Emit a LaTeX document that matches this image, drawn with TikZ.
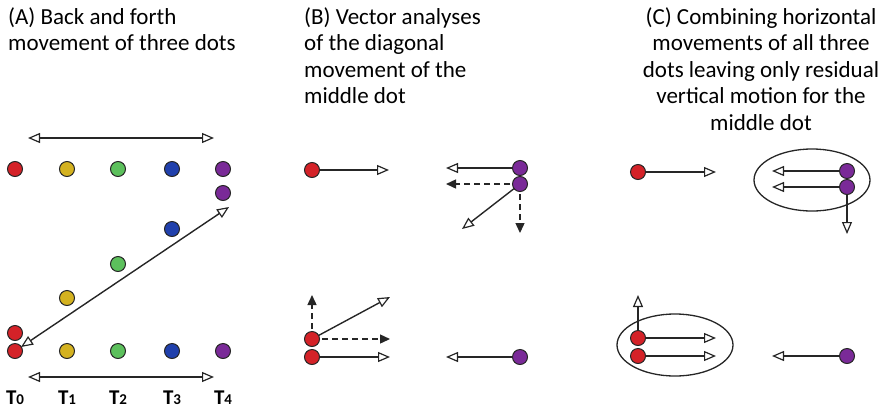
\documentclass[tikz,border=0pt]{standalone}
\usepackage{fontspec}
\setmainfont{Carlito}
\usetikzlibrary{arrows.meta,shapes.geometric}
\definecolor{dred}{RGB}{212,34,40}
\definecolor{dyel}{RGB}{212,178,32}
\definecolor{dgrn}{RGB}{92,192,92}
\definecolor{dblu}{RGB}{32,64,172}
\definecolor{dpur}{RGB}{122,42,152}
\tikzset{
  dot/.style={circle,draw=black!85,line width=1pt,inner sep=0pt,minimum size=15pt},
  mv/.style={line width=1.4pt,draw=black!85,-{Triangle[open,length=12pt,width=10pt,line width=1.2pt]}},
  mvb/.style={line width=1.4pt,draw=black!85,{Triangle[open,length=12pt,width=10pt,line width=1.2pt]}-{Triangle[open,length=12pt,width=10pt,line width=1.2pt]}},
  dsh/.style={line width=1.4pt,draw=black!85,dash pattern=on 6pt off 4pt,-{Triangle[length=10pt,width=9pt]}},
  ell/.style={ellipse,draw=black!85,line width=1.3pt,minimum width=116pt,minimum height=62pt,inner sep=0pt},
  ttl/.style={font=\fontsize{23}{26.5}\selectfont,inner sep=0pt},
  tlab/.style={font=\fontsize{21}{24}\selectfont\bfseries,inner sep=0pt}
}
\begin{document}
\begin{tikzpicture}[x=1pt,y=-1pt]
\useasboundingbox (0,0) rectangle (883,413);
% titles
\node[ttl,anchor=north west,align=left] (ta) at (8,7) {(A) Back and forth\\movement of three dots};
\node[ttl,anchor=north west,align=left] (tb) at (304,7) {(B) Vector analyses\\of the diagonal\\movement of the\\middle dot};
\node[ttl,anchor=north,align=center] (tc) at (761,7) {(C) Combining horizontal\\movements of all three\\dots leaving only residual\\vertical motion for the\\middle dot};
% panel A
\coordinate (at1) at (28,138); \coordinate (at2) at (214,138);
\draw[mvb] (at1) -- (at2);
\node[dot,fill=dred] (a0) at (15,169) {};
\node[dot,fill=dyel] (a1) at (67,169) {};
\node[dot,fill=dgrn] (a2) at (118,169) {};
\node[dot,fill=dblu] (a3) at (172,169) {};
\node[dot,fill=dpur] (a4) at (223,169) {};
\node[dot,fill=dpur] (m4) at (223,193) {};
\node[dot,fill=dblu] (m3) at (172,229) {};
\node[dot,fill=dgrn] (m2) at (118,264) {};
\node[dot,fill=dyel] (m1) at (67,298) {};
\node[dot,fill=dred] (m0) at (15,333) {};
\node[dot,fill=dred] (b0) at (15,351) {};
\node[dot,fill=dyel] (b1) at (67,351) {};
\node[dot,fill=dgrn] (b2) at (118,351) {};
\node[dot,fill=dblu] (b3) at (172,351) {};
\node[dot,fill=dpur] (b4) at (223,351) {};
\coordinate (d1) at (21,347); \coordinate (d2) at (229,207);
\draw[mvb] (d1) -- (d2);
\coordinate (ab1) at (28,377); \coordinate (ab2) at (214,377);
\draw[mvb] (ab1) -- (ab2);
\foreach \i/\x in {0/15,1/67,2/118,3/172,4/223}
  \node[tlab] (t\i) at (\x,398) {T{\fontsize{15}{15}\selectfont\i}};
% panel B top
\node[dot,fill=dred] (br) at (312,170) {};
\coordinate (br1) at (389,170);
\draw[mv] (br) -- (br1);
\coordinate (bp1e) at (446,168); \coordinate (bp2e) at (446,184);
\coordinate (bdg) at (462,229); \coordinate (bdn) at (520,233);
\draw[dsh] (520,184) -- (bdn);
\draw[mv] (520,184) -- (bdg);
\draw[mv] (520,168) -- (bp1e);
\draw[dsh] (520,184) -- (bp2e);
\node[dot,fill=dpur] (bp1) at (520,168) {};
\node[dot,fill=dpur] (bp2) at (520,184) {};
% panel B bottom
\coordinate (bu) at (312,295); \coordinate (bdr) at (390,297);
\coordinate (bh1) at (390,339); \coordinate (bh2) at (390,357);
\draw[dsh] (312,339) -- (bu);
\draw[mv] (312,339) -- (bdr);
\draw[dsh] (312,339) -- (bh1);
\draw[mv] (312,357) -- (bh2);
\node[dot,fill=dred] (bq1) at (312,339) {};
\node[dot,fill=dred] (bq2) at (312,357) {};
\node[dot,fill=dpur] (bq3) at (520,357) {};
\coordinate (bq3e) at (446,357);
\draw[mv] (bq3) -- (bq3e);
% panel C top
\node[dot,fill=dred] (cr) at (638,172) {};
\coordinate (cr1) at (716,172);
\draw[mv] (cr) -- (cr1);
\node[ell] (ce1) at (812,180) {};
\coordinate (cl1) at (772,171); \coordinate (cl2) at (772,187); \coordinate (cdn) at (847,234);
\draw[mv] (847,171) -- (cl1);
\draw[mv] (847,187) -- (cl2);
\draw[mv] (847,187) -- (cdn);
\node[dot,fill=dpur] (cp1) at (847,171) {};
\node[dot,fill=dpur] (cp2) at (847,187) {};
% panel C bottom
\node[ell] (ce2) at (675,345) {};
\coordinate (cup) at (638,295); \coordinate (cr2) at (716,338); \coordinate (cr3) at (716,356);
\draw[mv] (638,338) -- (cup);
\draw[mv] (638,338) -- (cr2);
\draw[mv] (638,356) -- (cr3);
\node[dot,fill=dred] (cq1) at (638,338) {};
\node[dot,fill=dred] (cq2) at (638,356) {};
\node[dot,fill=dpur] (cq3) at (847,356) {};
\coordinate (cq3e) at (772,356);
\draw[mv] (cq3) -- (cq3e);
\end{tikzpicture}
\end{document}
